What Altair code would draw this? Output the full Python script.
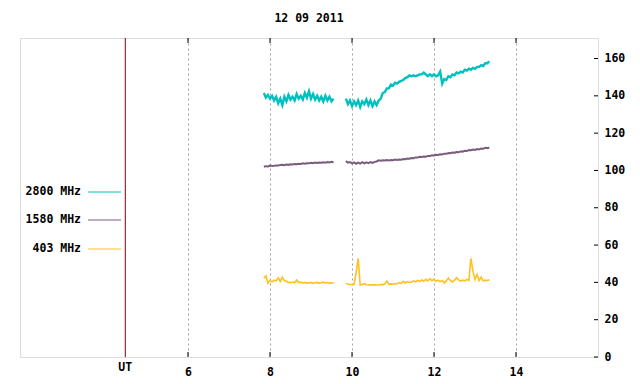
import altair as alt
import pandas as pd

# ---- data ----
series_names = ["2800 MHz", "1580 MHz", "403 MHz"]
series_colors = ["#00c0c0", "#7b5b7e", "#ffc020"]
series_widths = [2.4, 2.0, 1.6]

seg1_start = 7.85   # UT hours, 3-minute samples
seg2_start = 9.85
step = 0.05

cyan_seg1 = [141.5, 139.0, 140.5, 138.5, 140.0, 137.5, 139.5, 136.0, 138.5, 135.0,
             139.5, 137.0, 140.5, 138.0, 139.5, 137.5, 141.0, 138.5, 140.0, 138.0,
             141.5, 139.0, 142.5, 138.5, 141.0, 138.0, 140.0, 137.5, 139.5, 137.0,
             140.0, 137.5, 139.5, 137.0, 138.5]
cyan_seg2 = [138.5, 135.5, 137.5, 134.5, 137.0, 135.0, 137.5, 134.0, 137.0, 135.5,
             138.0, 135.0, 137.5, 134.5, 137.0, 135.0, 137.5,
             138.5, 141.5, 142.0, 144.0, 144.0, 146.0, 145.5, 147.0, 146.5, 147.5,
             148.0, 148.5, 149.5, 150.0, 151.0, 150.5, 151.0, 150.5, 151.0, 151.5,
             151.5, 152.5, 151.5, 150.5, 151.5, 150.5, 151.5, 150.5, 151.0, 153.0,
             146.5, 149.0, 148.5, 150.5, 150.0, 151.5, 151.0, 152.5, 152.0, 153.0,
             152.5, 154.0, 153.5, 154.5, 154.0, 155.0, 154.5, 155.5, 155.5, 156.5,
             156.0, 157.5, 157.5, 158.5]

purple_seg1 = [102.0, 102.3, 102.1, 102.6, 102.4, 102.5, 102.7, 102.6, 102.9, 103.0,
               102.8, 103.2, 103.0, 103.3, 103.2, 103.5, 103.3, 103.6, 103.5, 103.8,
               103.6, 103.9, 103.8, 104.1, 103.9, 104.2, 104.0, 104.3, 104.1, 104.4,
               104.2, 104.5, 104.3, 104.6, 104.4]
purple_seg2 = [105.0, 104.2, 104.5, 103.8, 104.3, 103.6, 104.2, 103.7, 104.4, 103.8,
               104.3, 103.9, 104.5, 104.0, 104.6, 104.8, 105.4,
               105.2, 105.5, 105.3, 105.6, 105.4, 105.6, 105.5, 105.8, 105.6, 105.9,
               105.8, 106.1, 106.0, 106.4, 106.3, 106.7, 106.6, 107.0, 106.9, 107.3,
               107.2, 107.5, 107.4, 107.8, 107.7, 108.1, 108.0, 108.4, 108.3, 108.7,
               108.6, 109.0, 108.9, 109.3, 109.2, 109.6, 109.5, 109.9, 109.8, 110.2,
               110.1, 110.6, 110.4, 110.9, 110.8, 111.2, 111.0, 111.5, 111.3, 111.8,
               111.6, 112.1, 111.9, 112.3]

yellow_seg1 = [42.2, 43.5, 39.5, 41.0, 40.3, 41.2, 40.8, 42.5, 40.5, 42.8,
               41.0, 40.6, 40.0, 39.8, 40.2, 39.8, 41.3, 40.0, 40.1, 39.7,
               40.0, 39.6, 39.8, 39.9, 39.4, 39.8, 40.0, 39.6, 39.8, 40.1,
               39.7, 39.9, 39.5, 39.8, 39.6]
yellow_seg2 = [39.6, 39.0, 38.9, 38.7, 39.0, 45.0, 52.9, 38.6, 38.9, 39.3,
               38.7, 38.6, 38.7, 38.6, 38.8, 38.6, 38.7,
               38.9, 38.8, 39.1, 40.8, 39.0, 39.2, 39.0, 39.4, 39.3, 39.8,
               39.5, 40.6, 39.7, 40.4, 40.0, 40.2, 40.8, 40.3, 41.0, 40.5,
               41.3, 40.6, 41.6, 40.8, 42.0, 40.9, 41.8, 40.6, 41.2, 40.4,
               41.0, 39.6, 40.8, 42.3, 41.0, 40.2, 41.1, 42.5, 41.3, 40.7,
               41.2, 40.8, 41.6, 41.0, 52.9, 46.0, 41.6, 44.2, 41.0, 42.8,
               40.8, 41.2, 41.0, 41.4]

x_ticks = [6, 8, 10, 12, 14]
y_ticks = [0, 20, 40, 60, 80, 100, 120, 140, 160]
ut_marker = [4.47]
x_domain = [1.902, 16]
y_domain = [0, 171]
title_text = "12 09 2011"

# ---- build table ----
rows = []
for name, w, s1, s2 in [(series_names[0], series_widths[0], cyan_seg1, cyan_seg2),
                        (series_names[1], series_widths[1], purple_seg1, purple_seg2),
                        (series_names[2], series_widths[2], yellow_seg1, yellow_seg2)]:
    for seg, start, vals in [(1, seg1_start, s1), (2, seg2_start, s2)]:
        for i, v in enumerate(vals):
            rows.append({"t": round(start + i * step, 3), "v": v,
                         "series": name, "seg": seg, "w": w})
df = pd.DataFrame(rows)

FONT = "DejaVu Sans Mono"
FS = 11.5
W, H = 578, 319

xscale = alt.Scale(domain=x_domain, nice=False, zero=False)
yscale = alt.Scale(domain=y_domain, nice=False, zero=False)

x_axis = alt.Axis(values=x_ticks, grid=True, gridDash=[2, 3],
                  gridColor="#a0a0a0", gridWidth=1, tickSize=0,
                  domain=False, labelPadding=9, title=None,
                  format="d", labelFont=FONT, labelFontSize=FS,
                  labelFontWeight="bold", labelColor="black",
                  labelOverlap=False)
y_axis = alt.Axis(orient="right", values=y_ticks, grid=False,
                  tickSize=0, domain=False, labelPadding=6,
                  title=None, labelFont=FONT, labelFontSize=FS,
                  labelFontWeight="bold", labelColor="black",
                  labelOverlap=False, format="d")

X = alt.X("t:Q", scale=xscale, axis=x_axis)
Y = alt.Y("v:Q", scale=yscale, axis=y_axis)

lines = alt.Chart(df).mark_line(clip=True, strokeJoin="miter").encode(
    x=X, y=Y,
    color=alt.Color("series:N", scale=alt.Scale(domain=series_names,
                                                range=series_colors),
                    legend=None),
    strokeWidth=alt.StrokeWidth("w:Q", scale=None, legend=None),
    detail="seg:N",
)

ut_df = pd.DataFrame({"t": ut_marker, "label": ["UT"]})
ut_rule = alt.Chart(ut_df).mark_rule(color="#7a0000", strokeWidth=1).encode(x=X)
ut_text = alt.Chart(ut_df).mark_text(font=FONT, fontSize=FS, fontWeight="bold",
                                     color="black", baseline="middle").encode(
    x=X, y=alt.value(H + 11), text="label:N")

xt_df = pd.DataFrame({"t": x_ticks})
xt_bottom = alt.Chart(xt_df).mark_rule(color="black").encode(
    x=X, y=alt.value(H), y2=alt.value(H - 5))
xt_top = alt.Chart(xt_df).mark_rule(color="black").encode(
    x=X, y=alt.value(0), y2=alt.value(5))
yt_df = pd.DataFrame({"v": y_ticks})
yt_right = alt.Chart(yt_df).mark_rule(color="black").encode(
    y=Y, x=alt.value(W - 4), x2=alt.value(W))

legend_layers = []
legend_y = [154, 182, 211]
for name, col, yy in zip(series_names, series_colors, legend_y):
    d = alt.Data(values=[{"label": name}])
    legend_layers.append(
        alt.Chart(d).mark_text(font=FONT, fontSize=FS, fontWeight="bold",
                               color="black", align="right",
                               baseline="middle").encode(
            x=alt.value(61), y=alt.value(yy), text="label:N"))
    legend_layers.append(
        alt.Chart(d).mark_rule(color=col, strokeWidth=1).encode(
            x=alt.value(68), x2=alt.value(101), y=alt.value(yy)))

chart = alt.layer(lines, ut_rule, ut_text, xt_bottom, xt_top, yt_right,
                  *legend_layers).properties(
    width=W, height=H,
    autosize="none",
    padding={"left": 12, "top": 30, "right": 34, "bottom": 20},
    title=alt.TitleParams(title_text, anchor="middle", font=FONT, fontSize=FS,
                          fontWeight="bold", color="black", offset=13),
).configure_view(stroke="black", strokeWidth=1).configure(background="white")

chart.save("out.html", embed_options={"renderer": "svg", "actions": False})
